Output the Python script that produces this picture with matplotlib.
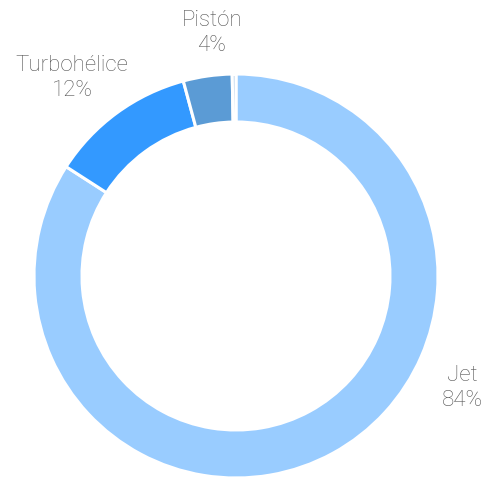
import matplotlib.pyplot as plt

labels = ['Jet', 'Turbohélice', 'Pistón', '']
values = [84.1, 11.7, 3.9, 0.3]
pct_text = ['84%', '12%', '4%', '']
colors = ['#99ccff', '#3399ff', '#5b9bd5', '#a9c8e8']

# label anchor points in pixel space (x, y from top)
label_pos = [(462, 388), (72, 78), (212, 33), None]

W, H = 485, 481
fig = plt.figure(figsize=(W / 100, H / 100), dpi=100)
ax = fig.add_axes([0, 0, 1, 1])

ax.pie(values, colors=colors, startangle=90, counterclock=False,
       center=(236, H - 277), radius=202,
       wedgeprops=dict(width=48, edgecolor='white', linewidth=2.2))

# pie resets the limits, so set them afterwards
ax.set_xlim(0, W)
ax.set_ylim(0, H)
ax.set_aspect('equal')
ax.axis('off')

for lab, pct, pos in zip(labels, pct_text, label_pos):
    if pos is None:
        continue
    ax.text(pos[0], H - pos[1], lab + '\n' + pct, ha='center', va='center',
            fontsize=16, color='#555555', family=['Roboto', 'DejaVu Sans'],
            fontweight='light', linespacing=1.3)

fig.savefig('out.png', dpi=100)
